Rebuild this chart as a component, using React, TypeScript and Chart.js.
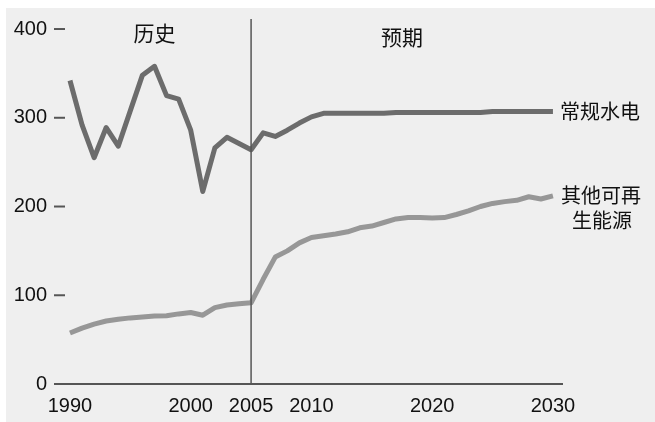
import React, { useEffect, useRef } from "react";
import { Chart, registerables } from "chart.js";

Chart.register(...registerables);

const years = [
  1990, 1991, 1992, 1993, 1994, 1995, 1996, 1997, 1998, 1999,
  2000, 2001, 2002, 2003, 2004, 2005, 2006, 2007, 2008, 2009,
  2010, 2011, 2012, 2013, 2014, 2015, 2016, 2017, 2018, 2019,
  2020, 2021, 2022, 2023, 2024, 2025, 2026, 2027, 2028, 2029, 2030,
];

const hydro = [
  342, 292, 255, 289, 268, 308, 348, 358, 325, 321,
  286, 217, 266, 278, 271, 264, 283, 279, 286, 294,
  301, 305, 305, 305, 305, 305, 305, 306, 306, 306,
  306, 306, 306, 306, 306, 307, 307, 307, 307, 307, 307,
];

const renewables = [
  57.5, 63, 67.5, 71, 73, 74.5, 75.5, 76.5, 77, 79,
  80.5, 77.5, 86, 89, 90.5, 91.5, 118, 143, 150, 159,
  165, 167, 169, 171.5, 176, 178, 182, 186, 187.5, 187.5,
  187, 187.5, 191, 195, 200, 203.5, 205.5, 207, 211, 208.5, 212,
];

const xTickYears = [1990, 2000, 2005, 2010, 2020, 2030];
const yTickValues = [0, 100, 200, 300, 400];
const dividerYear = 2005;
const hydroLabel = "常规水电";
const renewLabelLines = ["其他可再", "生能源"];
const historyLabel = "历史";
const forecastLabel = "预期";

const AXIS = "#555555";
const TEXT = "#111111";
const CJK = '"Noto Sans CJK SC", "Noto Sans", sans-serif';

export default function App() {
  const ref = useRef<HTMLCanvasElement | null>(null);

  useEffect(() => {
    if (!ref.current) return;
    const annotate = {
      id: "annotate",
      afterDatasetsDraw(chart: any) {
        const { ctx, chartArea } = chart;
        const xs = chart.scales.x;
        const ys = chart.scales.y;
        ctx.save();
        ctx.strokeStyle = AXIS;
        ctx.lineWidth = 2;
        yTickValues.forEach((v) => {
          const py = ys.getPixelForValue(v);
          ctx.beginPath();
          ctx.moveTo(chartArea.left - 1, py);
          ctx.lineTo(chartArea.left + 10, py);
          ctx.stroke();
        });
        ctx.fillStyle = TEXT;
        ctx.font = `20px ${CJK}`;
        ctx.textBaseline = "middle";
        const endX = xs.getPixelForValue(years[years.length - 1]);
        ctx.textAlign = "left";
        ctx.fillText(hydroLabel, endX + 7, ys.getPixelForValue(hydro[hydro.length - 1]));
        const ry = ys.getPixelForValue(renewables[renewables.length - 1]);
        ctx.textAlign = "center";
        ctx.fillText(renewLabelLines[0], endX + 48, ry);
        ctx.fillText(renewLabelLines[1], endX + 49, ry + 25);
        ctx.font = `21px ${CJK}`;
        ctx.fillText(historyLabel, xs.getPixelForValue(1997), ys.getPixelForValue(395));
        ctx.fillText(forecastLabel, xs.getPixelForValue(2017.5), ys.getPixelForValue(391));
        ctx.restore();
      },
    };

    const chart = new Chart(ref.current, {
      type: "line",
      data: {
        datasets: [
          {
            label: "divider",
            data: [
              { x: dividerYear, y: 0 },
              { x: dividerYear, y: 411.3 },
            ],
            borderColor: AXIS,
            borderWidth: 1.5,
            pointRadius: 0,
            order: 0,
          },
          {
            label: hydroLabel,
            data: years.map((y, i) => ({ x: y, y: hydro[i] })),
            borderColor: "#6c6c6c",
            borderWidth: 5,
            pointRadius: 0,
            tension: 0,
            borderJoinStyle: "round",
            order: 1,
          },
          {
            label: renewLabelLines.join(""),
            data: years.map((y, i) => ({ x: y, y: renewables[i] })),
            borderColor: "#979797",
            borderWidth: 5,
            pointRadius: 0,
            tension: 0,
            borderJoinStyle: "round",
            order: 1,
          },
        ],
      },
      options: {
        animation: false,
        responsive: false,
        maintainAspectRatio: false,
        layout: { padding: { left: 0, right: 93, top: 11, bottom: 0 } },
        plugins: {
          legend: { display: false },
          tooltip: { enabled: false },
        },
        scales: {
          x: {
            type: "linear",
            min: 1988.76,
            max: 2030.75,
            afterBuildTicks: (scale: any) => {
              scale.ticks = xTickYears.map((v) => ({ value: v }));
            },
            afterFit: (scale: any) => {
              scale.height = 38;
              scale.paddingLeft = 0;
              scale.paddingRight = 0;
              scale.paddingTop = 0;
              scale.paddingBottom = 0;
            },
            grid: { display: false, drawTicks: false },
            border: { display: true, color: AXIS, width: 2 },
            ticks: {
              padding: 10,
              color: TEXT,
              font: { family: '"Liberation Sans", Arial, sans-serif', size: 20 },
              maxRotation: 0,
              autoSkip: false,
              callback: (v: any) => String(v),
            },
          },
          y: {
            type: "linear",
            min: 0,
            max: 411.3,
            afterBuildTicks: (scale: any) => {
              scale.ticks = yTickValues.map((v) => ({ value: v }));
            },
            afterFit: (scale: any) => {
              scale.width = 49;
              scale.paddingLeft = 0;
              scale.paddingRight = 0;
              scale.paddingTop = 0;
              scale.paddingBottom = 0;
            },
            grid: { display: false, drawTicks: false },
            border: { display: false },
            ticks: {
              padding: 8,
              color: TEXT,
              font: { family: '"Liberation Sans", Arial, sans-serif', size: 20 },
              callback: (v: any) => String(v),
            },
          },
        },
      },
      plugins: [annotate],
    } as any);

    return () => chart.destroy();
  }, []);

  return (
    <div
      style={{
        position: "absolute",
        left: 6,
        top: 8,
        width: 649,
        height: 414,
        background: "#efefef",
      }}
    >
      <canvas ref={ref} width={649} height={414} style={{ display: "block", width: 649, height: 414 }} />
    </div>
  );
}
